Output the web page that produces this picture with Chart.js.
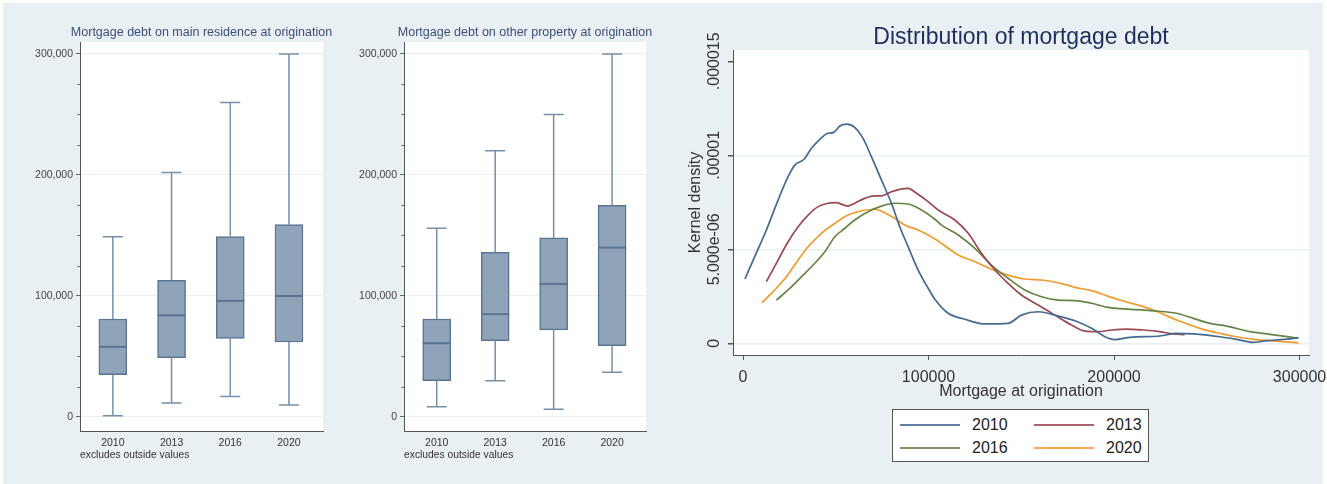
<!DOCTYPE html>
<html>
<head>
<meta charset="utf-8">
<script src="https://cdn.jsdelivr.net/npm/chart.js@4.4.0/dist/chart.umd.min.js"></script>
<style>
  body { margin: 0; width: 1327px; height: 484px; overflow: hidden; position: relative; background: #fff; font-family: "Liberation Sans", Arial, sans-serif; }
  #bg { position: absolute; left: 3px; top: 3px; width: 1320px; height: 481px; background: #e8f0f3; }
  canvas { position: absolute; top: 0; }
  #legend { position: absolute; left: 892px; top: 409px; width: 255px; height: 51px; background: #fff; border: 1.5px solid #555; }
  .sw { position: absolute; height: 0; border-top: 2.5px solid; width: 60px; }
  .lb { position: absolute; font-size: 16px; color: #222; line-height: 16px; }
</style>
</head>
<body>
<div id="bg"></div>
<canvas id="boxMain" width="345" height="484" style="left:0"></canvas>
<canvas id="boxOther" width="325" height="484" style="left:340px"></canvas>
<canvas id="density" width="662" height="484" style="left:665px"></canvas>
<div id="legend"></div>
<script>
Chart.defaults.font.family = '"Liberation Sans", Arial, sans-serif';

// box plots: values
const years = ['2010', '2013', '2016', '2020'];
const mainLow = [1000, 11500, 17000, 10000];
const mainQ1 = [35000, 49000, 65000, 62000];
const mainMed = [58000, 84000, 96000, 100000];
const mainQ3 = [81000, 113000, 149000, 159000];
const mainHigh = [149000, 202000, 260000, 300000];

const otherLow = [8500, 30000, 6500, 37000];
const otherQ1 = [30000, 63000, 72000, 59000];
const otherMed = [61000, 85000, 110000, 140000];
const otherQ3 = [81000, 136000, 148000, 175000];
const otherHigh = [156000, 220000, 250000, 300000];

const boxTicks = [0, 25000, 50000, 75000, 100000, 125000, 150000, 175000, 200000, 225000, 250000, 275000, 300000];

// kernel densities (y in units of 1e-6)
const x2010 = [1000, 6300, 12600, 18900, 24300, 27900, 32900, 36900, 41400, 45800, 48900, 52200, 55800, 60200, 64700, 69200, 74600, 80000, 84500, 89000, 94400, 99800, 103400, 110600, 119600, 130400, 142900, 150100, 159100, 168100, 178900, 187900, 195100, 200500, 208600, 224800, 233700, 242700, 257100, 266100, 275100, 282300, 291300, 299400];
const y2010 = [3.42, 4.61, 6.03, 7.62, 8.86, 9.48, 9.79, 10.37, 10.85, 11.17, 11.22, 11.56, 11.66, 11.49, 10.9, 9.93, 8.69, 7.45, 6.2, 5.14, 3.9, 2.93, 2.35, 1.6, 1.28, 1.03, 1.06, 1.5, 1.68, 1.5, 1.2, 0.8, 0.35, 0.2, 0.32, 0.39, 0.53, 0.5, 0.35, 0.21, 0.05, 0.14, 0.21, 0.3];
const x2013 = [12600, 18900, 24300, 29700, 35100, 40500, 45800, 50400, 56300, 60200, 65600, 71000, 74600, 80000, 84500, 89000, 93500, 98900, 105200, 114200, 121400, 128500, 135800, 142900, 150100, 159100, 168100, 177100, 184300, 191500, 198700, 206800, 215800, 224800, 232000, 238000];
const y2013 = [3.28, 4.43, 5.4, 6.2, 6.82, 7.27, 7.45, 7.48, 7.3, 7.45, 7.71, 7.84, 7.84, 8.06, 8.19, 8.24, 7.98, 7.6, 7.09, 6.56, 5.85, 4.79, 3.9, 3.19, 2.57, 2.04, 1.5, 0.97, 0.65, 0.62, 0.71, 0.76, 0.71, 0.62, 0.5, 0.46];
const x2016 = [18000, 24300, 31500, 38700, 44100, 49500, 54900, 60200, 67400, 74600, 81800, 89000, 96200, 103400, 107000, 116000, 125000, 133900, 142900, 151900, 160900, 169900, 178900, 187900, 196900, 208600, 221200, 233700, 242700, 251700, 260700, 273300, 284100, 299400];
const y2016 = [2.3, 2.84, 3.54, 4.26, 4.87, 5.67, 6.12, 6.56, 7.0, 7.3, 7.45, 7.41, 7.09, 6.6, 6.29, 5.76, 5.05, 4.16, 3.46, 2.84, 2.48, 2.3, 2.27, 2.13, 1.91, 1.81, 1.73, 1.6, 1.33, 1.06, 0.92, 0.62, 0.48, 0.27];
const x2020 = [10200, 17100, 23400, 29700, 35100, 42300, 49500, 56600, 63800, 71000, 76400, 81800, 87200, 94400, 101000, 107000, 116000, 125000, 133900, 142900, 151900, 160900, 169900, 178900, 187900, 196900, 206800, 215800, 224800, 233700, 242700, 248100, 257100, 266100, 275100, 284100, 299400];
const y2020 = [2.16, 2.84, 3.54, 4.43, 5.14, 5.85, 6.38, 6.82, 7.05, 7.13, 6.95, 6.65, 6.29, 6.03, 5.7, 5.32, 4.7, 4.34, 3.94, 3.63, 3.42, 3.37, 3.22, 2.98, 2.8, 2.5, 2.2, 1.95, 1.63, 1.24, 0.92, 0.74, 0.53, 0.35, 0.21, 0.14, 0.03];

const densityTicks = [0, 5, 10, 15];
const densityTickLabels = ['0', '5.000e-06', '.00001', '.000015'];
const xTicks = [0, 100000, 200000, 300000];

const seriesColors = ['#46698f', '#9c4852', '#658547', '#ef9b30'];

const boxFill = '#8fa4b9';
const boxLine = '#5a7491';
const whiskerLine = '#7590ab';

const plotBg = {
    id: 'plotBg',
    beforeDraw(chart) {
        const { ctx, chartArea: a } = chart;
        ctx.save();
        ctx.fillStyle = '#ffffff';
        ctx.fillRect(a.left, a.top, a.right - a.left, a.bottom - a.top);
        ctx.restore();
    }
};

function makeBox(id, title, low, q1, med, q3, high, yWidth, padRight) {
    const whiskers = {
        id: 'whiskers',
        afterDatasetsDraw(chart) {
            const { ctx, scales: { x, y }, chartArea: a } = chart;
            ctx.save();
            // minor ticks on the y axis
            ctx.strokeStyle = '#666';
            ctx.lineWidth = 1;
            boxTicks.forEach(v => {
                if (v % 100000 === 0) return;
                const py = Math.round(y.getPixelForValue(v)) + 0.5;
                ctx.beginPath();
                ctx.moveTo(a.left - 2.5, py);
                ctx.lineTo(a.left, py);
                ctx.stroke();
            });
            years.forEach((yr, i) => {
                const px = x.getPixelForValue(i + 1);
                ctx.strokeStyle = whiskerLine;
                ctx.lineWidth = 1.5;
                ctx.beginPath();
                ctx.moveTo(px, y.getPixelForValue(high[i]));
                ctx.lineTo(px, y.getPixelForValue(q3[i]));
                ctx.moveTo(px, y.getPixelForValue(q1[i]));
                ctx.lineTo(px, y.getPixelForValue(low[i]));
                ctx.moveTo(px - 10, y.getPixelForValue(high[i]));
                ctx.lineTo(px + 10, y.getPixelForValue(high[i]));
                ctx.moveTo(px - 10, y.getPixelForValue(low[i]));
                ctx.lineTo(px + 10, y.getPixelForValue(low[i]));
                ctx.stroke();
                ctx.strokeStyle = boxLine;
                ctx.lineWidth = 2;
                ctx.beginPath();
                ctx.moveTo(px - 14, y.getPixelForValue(med[i]));
                ctx.lineTo(px + 14, y.getPixelForValue(med[i]));
                ctx.stroke();
            });
            // panel heading, centred over the plot region
            ctx.fillStyle = '#3c4f7a';
            ctx.font = '12.5px "Liberation Sans", Arial, sans-serif';
            ctx.textAlign = 'center';
            ctx.textBaseline = 'middle';
            ctx.fillText(title, (a.left + a.right) / 2, 33);
            ctx.restore();
        }
    };

    return new Chart(document.getElementById(id), {
        type: 'bar',
        data: {
            datasets: [{
                data: years.map((yr, i) => ({ x: i + 1, y: [q1[i], q3[i]] })),
                backgroundColor: boxFill,
                borderColor: boxLine,
                borderWidth: 1.5,
                borderSkipped: false,
                barThickness: 28
            }]
        },
        options: {
            responsive: false,
            animation: false,
            layout: { padding: { left: 0, right: padRight, top: 42, bottom: 0 } },
            plugins: {
                legend: { display: false },
                tooltip: { enabled: false },
                title: { display: false }
            },
            scales: {
                x: {
                    type: 'linear',
                    offset: false,
                    min: 0.44,
                    max: 4.58,
                    afterBuildTicks: s => { s.ticks = years.map((yr, i) => ({ value: i + 1 })); },
                    afterFit: s => { s.height = 53; s.paddingLeft = 0; s.paddingRight = 0; },
                    ticks: { callback: v => years[v - 1], color: '#333', font: { size: 10.5 }, padding: 5.5, maxRotation: 0 },
                    grid: { display: false, drawTicks: false },
                    border: { color: '#555', width: 1 },
                    title: {
                        display: true,
                        text: 'excludes outside values',
                        align: 'start',
                        color: '#333',
                        font: { size: 10.3 },
                        padding: { top: 0, bottom: 23 }
                    }
                },
                y: {
                    min: -11570,
                    max: 309900,
                    afterBuildTicks: s => { s.ticks = boxTicks.map(v => ({ value: v })); },
                    afterFit: s => { s.width = yWidth; s.paddingTop = 0; s.paddingBottom = 0; },
                    ticks: {
                        callback: v => v % 100000 === 0 ? v.toLocaleString('en-US') : '',
                        color: '#444',
                        font: { size: 10.5 },
                        padding: 3
                    },
                    grid: {
                        color: c => c.tick && c.tick.value % 100000 === 0 ? '#e9f0f3' : 'rgba(0,0,0,0)',
                        tickColor: c => c.tick && c.tick.value % 100000 === 0 ? '#666' : 'rgba(0,0,0,0)',
                        tickLength: 4
                    },
                    border: { color: '#555', width: 1 }
                }
            }
        },
        plugins: [plotBg, whiskers]
    });
}

makeBox('boxMain', 'Mortgage debt on main residence at origination',
    mainLow, mainQ1, mainMed, mainQ3, mainHigh, 80, 22);
makeBox('boxOther', 'Mortgage debt on other property at origination',
    otherLow, otherQ1, otherMed, otherQ3, otherHigh, 64, 19);

// density chart
const densityX = [x2010, x2013, x2016, x2020];
const densityY = [y2010, y2013, y2016, y2020];

const rotatedTicks = {
    id: 'rotatedTicks',
    afterDraw(chart) {
        const { ctx, scales: { y } } = chart;
        ctx.save();
        ctx.fillStyle = '#333';
        ctx.font = '16px "Liberation Sans", Arial, sans-serif';
        ctx.textAlign = 'center';
        ctx.textBaseline = 'middle';
        densityTicks.forEach((v, i) => {
            ctx.save();
            ctx.translate(50, y.getPixelForValue(v));
            ctx.rotate(-Math.PI / 2);
            ctx.fillText(densityTickLabels[i], 0, 0);
            ctx.restore();
        });
        ctx.restore();
    }
};

new Chart(document.getElementById('density'), {
    type: 'line',
    data: {
        datasets: years.map((yr, k) => ({
            label: yr,
            data: densityX[k].map((v, i) => ({ x: v, y: densityY[k][i] })),
            borderColor: seriesColors[k],
            borderWidth: 1.7,
            pointRadius: 0,
            fill: false,
            cubicInterpolationMode: 'monotone'
        }))
    },
    options: {
        responsive: false,
        animation: false,
        layout: { padding: { left: 0, right: 18, top: 0, bottom: 82 } },
        plugins: {
            legend: { display: false },
            tooltip: { enabled: false },
            title: {
                display: true,
                text: 'Distribution of mortgage debt',
                fullSize: false,
                color: '#1f2e5c',
                font: { size: 23, weight: 'normal', lineHeight: 1 },
                padding: { top: 26.5, bottom: 0.5 }
            }
        },
        scales: {
            x: {
                type: 'linear',
                min: -5400,
                max: 305100,
                afterBuildTicks: s => { s.ticks = xTicks.map(v => ({ value: v })); },
                afterFit: s => { s.height = 47; s.paddingLeft = 0; s.paddingRight = 0; },
                ticks: { callback: v => String(v), color: '#333', font: { size: 16 }, padding: 8, maxRotation: 0 },
                grid: { color: 'rgba(0,0,0,0)', tickColor: '#555', tickLength: 5 },
                border: { color: '#555', width: 1 },
                title: {
                    display: true,
                    text: 'Mortgage at origination',
                    color: '#333',
                    font: { size: 16 },
                    padding: { top: 0, bottom: 0.4 }
                }
            },
            y: {
                min: -0.62,
                max: 15.6,
                afterBuildTicks: s => { s.ticks = densityTicks.map(v => ({ value: v })); },
                afterFit: s => { s.width = 68; },
                ticks: { display: false },
                grid: {
                    color: c => c.tick && c.tick.value < 15 ? '#e9f0f3' : 'rgba(0,0,0,0)',
                    tickColor: '#555',
                    tickLength: 5,
                    lineWidth: 1.5
                },
                border: { color: '#555', width: 1 },
                title: {
                    display: true,
                    text: 'Kernel density',
                    color: '#333',
                    font: { size: 16 },
                    padding: { top: 21.4, bottom: 0 }
                }
            }
        }
    },
    plugins: [plotBg, rotatedTicks]
});

// legend built from the series
const legend = document.getElementById('legend');
years.forEach((yr, k) => {
    const col = k % 2, row = Math.floor(k / 2);
    const left = col === 0 ? 7 : 141;
    const top = row === 0 ? 15 : 38;
    const sw = document.createElement('div');
    sw.className = 'sw';
    sw.style.left = left + 'px';
    sw.style.top = (top - 1) + 'px';
    sw.style.borderTopColor = seriesColors[k];
    sw.style.opacity = '0.85';
    legend.appendChild(sw);
    const lb = document.createElement('div');
    lb.className = 'lb';
    lb.style.left = (left + 72) + 'px';
    lb.style.top = (top - 8) + 'px';
    lb.textContent = yr;
    legend.appendChild(lb);
});
</script>
</body>
</html>
